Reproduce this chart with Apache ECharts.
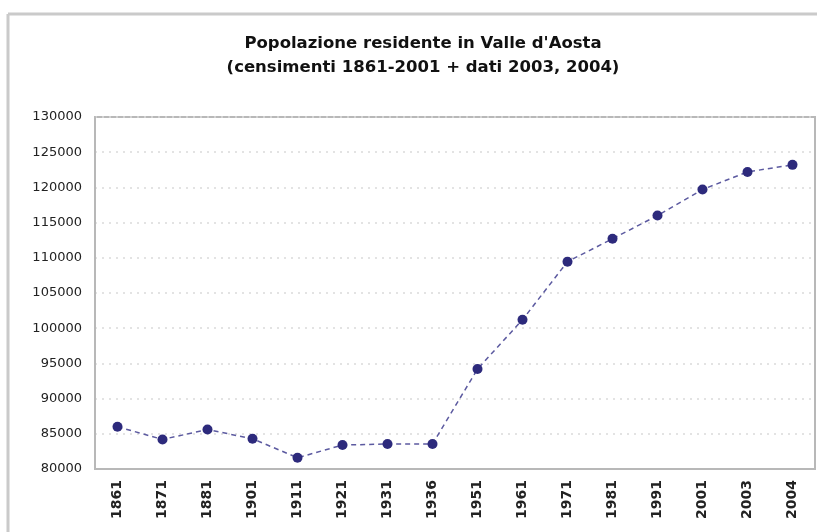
<!DOCTYPE html>
<html>
<head>
<meta charset="utf-8">
<script src="https://cdn.jsdelivr.net/npm/echarts@6/dist/echarts.min.js"></script>
<style>
  html, body { margin: 0; padding: 0; background: #fff; }
  #chart { width: 817px; height: 532px; }
</style>
</head>
<body>
<div id="chart"></div>
<script>
// anni dei censimenti + dati 2003, 2004
const anni = ["1861", "1871", "1881", "1901", "1911", "1921", "1931", "1936",
  "1951", "1961", "1971", "1981", "1991", "2001", "2003", "2004"];
// popolazione residente
const popolazione = [86000, 84200, 85600, 84300, 81600, 83400, 83550, 83550,
  94200, 101200, 109450, 112700, 116000, 119700, 122200, 123200];
const yMin = 80000;
const yMax = 130000;
const yStep = 5000;

const chart = echarts.init(document.getElementById("chart"));
chart.setOption({
  backgroundColor: "#fff",
  animation: false,
  textStyle: { fontFamily: "DejaVu Sans" },
  title: {
    text: "Popolazione residente in Valle d'Aosta\n(censimenti 1861-2001 + dati 2003, 2004)",
    left: 418,
    top: 27,
    textAlign: "center",
    textStyle: { fontSize: 16.5, fontWeight: "bold", color: "#111", lineHeight: 24, fontFamily: "DejaVu Sans" }
  },
  // cornice esterna
  graphic: [
    { type: "line", shape: { x1: 8, y1: 14, x2: 817, y2: 14 }, style: { stroke: "#cacaca", lineWidth: 3 } },
    { type: "line", shape: { x1: 8, y1: 14, x2: 8, y2: 532 }, style: { stroke: "#cacaca", lineWidth: 3 } }
  ],
  grid: { left: 95, right: 2, top: 117, bottom: 63, show: true, borderColor: "#b8b8b8", borderWidth: 2 },
  xAxis: {
    type: "category",
    data: anni,
    boundaryGap: true,
    axisLine: { lineStyle: { color: "#b8b8b8", width: 2 } },
    axisTick: { show: false },
    axisLabel: { rotate: 90, fontSize: 14, fontWeight: "bold", color: "#222", margin: 11 }
  },
  yAxis: {
    type: "value",
    min: yMin,
    max: yMax,
    interval: yStep,
    axisLine: { show: true, lineStyle: { color: "#b8b8b8", width: 2 } },
    axisTick: { show: false },
    axisLabel: { fontSize: 13, color: "#222", margin: 13, formatter: (v) => String(v) },
    splitLine: { lineStyle: { color: "#dadada", type: [2, 5], width: 1.5 } }
  },
  series: [{
    type: "line",
    data: popolazione,
    symbol: "circle",
    symbolSize: 10,
    itemStyle: { color: "#2d2a7c" },
    lineStyle: { color: "#5c5aa0", width: 1.5, type: [5, 4] }
  }]
});
</script>
</body>
</html>
